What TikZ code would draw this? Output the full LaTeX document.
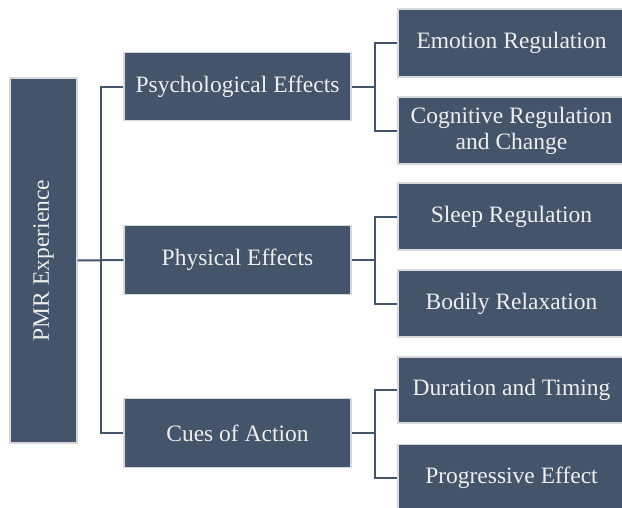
\documentclass[tikz,border=0pt]{standalone}
\usepackage{fontspec}
\setmainfont{Liberation Serif}
\definecolor{boxfill}{HTML}{44546A}
\definecolor{boxedge}{HTML}{D6D8DC}
\definecolor{boxtext}{HTML}{EEEEEE}
\definecolor{linecol}{HTML}{44546A}
\begin{document}
\begin{tikzpicture}[x=1pt,y=-1pt,
  box/.style={rectangle, fill=boxfill, draw=boxedge, line width=1.2pt,
    text=boxtext, inner sep=0pt, align=center,
    font=\fontsize{23.5}{26}\selectfont},
  midbox/.style={box, minimum width=227pt, minimum height=68.5pt},
  leafbox/.style={box, minimum width=227pt, minimum height=67pt},
  conn/.style={draw=linecol, line width=2pt}]
\useasboundingbox (0,0) rectangle (622,507);
\fill[white] (0,0) rectangle (622,507);
\node[box, minimum width=67pt, minimum height=365pt] (root) at (43.5,260.5) {\rotatebox{90}{PMR Experience}};
\node[midbox] (m1) at (237.5,86.5) {Psychological Effects};
\node[midbox] (m2) at (237.5,260) {Physical Effects};
\node[midbox] (m3) at (237.5,433) {Cues of Action};
\node[leafbox, minimum height=68pt] (l1) at (511.5,43) {Emotion Regulation};
\node[leafbox] (l2) at (511.5,130.5) {Cognitive Regulation\\and Change};
\node[leafbox] (l3) at (511.5,216.5) {Sleep Regulation};
\node[leafbox] (l4) at (511.5,303.5) {Bodily Relaxation};
\node[leafbox, minimum height=66pt] (l5) at (511.5,390) {Duration and Timing};
\node[leafbox] (l6) at (511.5,478) {Progressive Effect};
\coordinate (j0) at (101,260);
\coordinate (j1) at (374.5,0);
\draw[conn] (root.east) -- (m2.west);
\draw[conn] (m1.west) -| (j0) |- (m3.west);
\draw[conn] (m1.east) -- (m1.east -| j1);
\draw[conn] (l1.west) -| (j1 |- l2.west) -- (l2.west);
\draw[conn] (m2.east) -- (m2.east -| j1);
\draw[conn] (l3.west) -| (j1 |- l4.west) -- (l4.west);
\draw[conn] (m3.east) -- (m3.east -| j1);
\draw[conn] (l5.west) -| (j1 |- l6.west) -- (l6.west);
\end{tikzpicture}
\end{document}
